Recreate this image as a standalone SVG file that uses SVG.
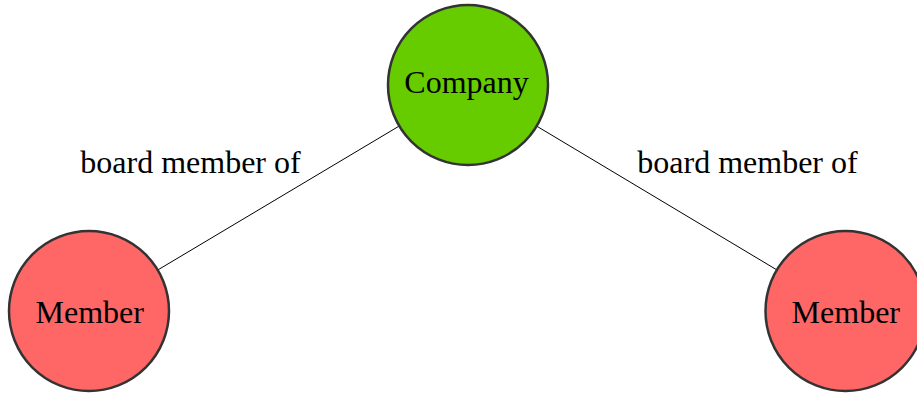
<svg xmlns="http://www.w3.org/2000/svg" width="917" height="396" viewBox="0 0 917 396">
<style>
.node circle{stroke:#333333;stroke-width:2.5}
.company circle{fill:#66cc00}
.member circle{fill:#ff6666}
text{font-family:"Liberation Serif","Times New Roman",serif;font-size:32px;fill:#000;text-anchor:middle}
.edge{stroke:#000;stroke-width:1;fill:none}
</style>
<rect width="917" height="396" fill="#ffffff"/>
<g id="connectors">
<line class="edge" x1="468" y1="85" x2="89" y2="311"/>
<line class="edge" x1="468" y1="85" x2="845.5" y2="311"/>
<text x="190.5" y="172.7">board member of</text>
<text x="747.5" y="172.7">board member of</text>
</g>
<g id="company" class="node company">
<circle cx="468" cy="85" r="80"/>
<text x="466.5" y="92.7">Company</text>
</g>
<g id="member1" class="node member">
<circle cx="89" cy="311" r="80"/>
<text x="89.7" y="322.5">Member</text>
</g>
<g id="member2" class="node member">
<circle cx="845.5" cy="311" r="80"/>
<text x="845.8" y="322.5">Member</text>
</g>
</svg>
